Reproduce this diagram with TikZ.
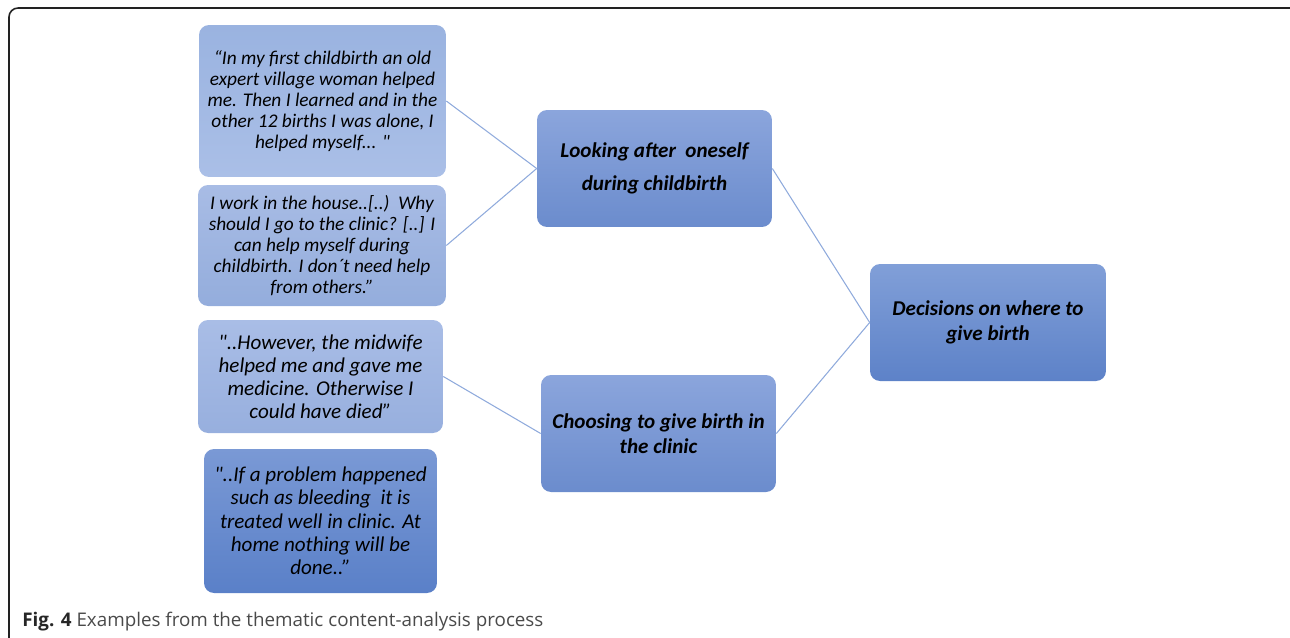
\documentclass[tikz,border=0pt]{standalone}
\usepackage{fontspec}
\setmainfont{Carlito}[Ligatures=TeXOff]
\newfontfamily\capfont{Open Sans}
\usepackage{tikz}

\definecolor{linkblue}{HTML}{8FAADC}
\definecolor{frameclr}{HTML}{222222}
\definecolor{capgray}{HTML}{4A4A4A}
\definecolor{qatop}{RGB}{154,179,224}
\definecolor{qabot}{RGB}{170,191,231}
\definecolor{qbtop}{RGB}{168,188,229}
\definecolor{qbbot}{RGB}{148,173,220}
\definecolor{qctop}{RGB}{169,189,230}
\definecolor{qcbot}{RGB}{151,175,222}
\definecolor{qdtop}{RGB}{122,153,213}
\definecolor{qdbot}{RGB}{90,128,200}
\definecolor{thtop}{RGB}{139,165,220}
\definecolor{thbot}{RGB}{107,140,205}
\definecolor{dctop}{RGB}{129,159,216}
\definecolor{dcbot}{RGB}{93,130,200}

\begin{document}
\begin{tikzpicture}[x=0.02cm,y=-0.02cm,
  quotebox/.style={rounded corners=0.2cm,align=center,inner sep=0pt,
    font=\fontsize{11}{12}\selectfont\itshape},
  themebox/.style={rounded corners=0.2cm,align=center,inner sep=0pt,
    minimum width=4.7cm,minimum height=2.34cm,
    font=\fontsize{12}{14}\selectfont\bfseries\itshape},
  link/.style={linkblue,line width=0.6pt}]
 \clip (0,0) rectangle (1290,637); %画像の範囲
 \draw[frameclr,line width=0.9pt,rounded corners=0.18cm] (9,8) rectangle (1310,660); %外枠
 \node[quotebox,minimum width=4.94cm,minimum height=3.04cm,top color=qatop,bottom color=qabot] (q1) at (322.5,101) {“In my first childbirth an old\\expert village woman helped\\me. Then I learned and in the\\other 12 births I was alone, I\\helped myself... "}; %引用1
 \node[quotebox,minimum width=4.96cm,minimum height=2.42cm,top color=qbtop,bottom color=qbbot] (q2) at (322,245.5) {I work in the house..[..)\ \ Why\\should I go to the clinic? [..] I\\can help myself during\\childbirth. I don´t need help\\from others.”}; %引用2
 \node[quotebox,minimum width=4.9cm,minimum height=2.26cm,top color=qctop,bottom color=qcbot,font=\fontsize{12}{13}\selectfont\itshape] (q3) at (320.5,376.5) {"..However, the midwife\\helped me and gave me\\medicine. Otherwise I\\could have died”}; %引用3
 \node[quotebox,minimum width=4.66cm,minimum height=2.88cm,top color=qdtop,bottom color=qdbot,font=\fontsize{12}{13.3}\selectfont\itshape] (q4) at (320.5,521) {"..If a problem happened\\such as bleeding\ \ it is\\treated well in clinic. At\\home nothing will be\\done..”}; %引用4
 \node[themebox,top color=thtop,bottom color=thbot,font=\fontsize{12}{19}\selectfont\bfseries\itshape] (look) at (654.5,168.5) {Looking after\ \ oneself\\during childbirth}; %テーマ1
 \node[themebox,top color=thtop,bottom color=thbot] (clinic) at (658.5,433.5) {Choosing to give birth in\\the clinic}; %テーマ2
 \node[themebox,minimum width=4.72cm,top color=dctop,bottom color=dcbot] (dec) at (988,322.5) {Decisions on where to\\give birth}; %中心テーマ
 \draw[link] (q1.east)--(look.west); %引用1から
 \draw[link] (q2.east)--(look.west); %引用2から
 \draw[link] (q3.east)--(clinic.west); %引用3から
 \draw[link] (look.east)--(dec.west); %テーマ1から
 \draw[link] (clinic.east)--(dec.west); %テーマ2から
 \node[anchor=base west,inner sep=0pt,capgray,font=\capfont\fontsize{10.7}{12}\selectfont] (cap) at (22,626) {\textbf{\color{black!85}Fig. 4} Examples from the thematic content-analysis process}; %図の説明
\end{tikzpicture}
\end{document}
